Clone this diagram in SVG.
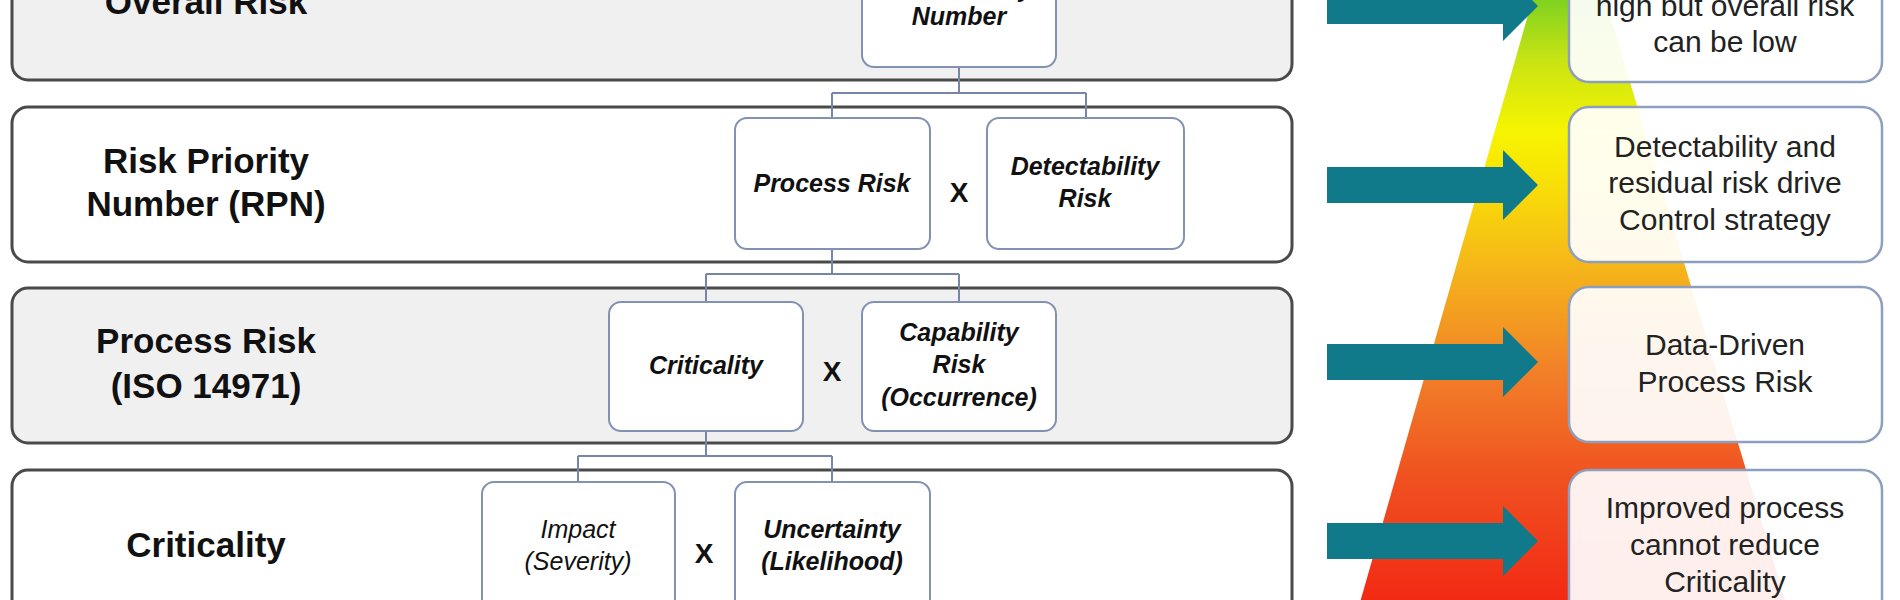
<svg xmlns="http://www.w3.org/2000/svg" width="1900" height="600" viewBox="0 0 1900 600">
<defs>
<linearGradient id="heat" gradientUnits="userSpaceOnUse" x1="0" y1="0" x2="0" y2="600">
<stop offset="0" stop-color="#7fd21e"/>
<stop offset="0.1" stop-color="#c8e414"/>
<stop offset="0.22" stop-color="#f7f400"/>
<stop offset="0.32" stop-color="#f8dc08"/>
<stop offset="0.45" stop-color="#f5b41a"/>
<stop offset="0.62" stop-color="#f18028"/>
<stop offset="0.8" stop-color="#f05020"/>
<stop offset="1" stop-color="#f22a14"/>
</linearGradient>
<style>
.band{stroke:#4a4a4a;stroke-width:3}
.gray{fill:#f0f0f1}
.white{fill:#ffffff}
.lbl{font-family:"Liberation Sans",Arial,sans-serif;font-weight:bold;font-size:35px;fill:#111;text-anchor:middle}
.card{fill:#ffffff;stroke:#8292b2;stroke-width:2}
.it{font-family:"Liberation Sans",Arial,sans-serif;font-weight:bold;font-style:italic;font-size:25px;fill:#111;text-anchor:middle}
.itr{font-family:"Liberation Sans",Arial,sans-serif;font-style:italic;font-size:25px;fill:#111;text-anchor:middle}
.x{font-family:"Liberation Sans",Arial,sans-serif;font-weight:bold;font-size:28px;fill:#111;text-anchor:middle}
.conn{fill:none;stroke:#7686a8;stroke-width:2}
.arrow{fill:#10798a}
.note{fill:#ffffff;fill-opacity:0.92;stroke:#8e9fbe;stroke-width:2.5}
.nt{font-family:"Liberation Sans",Arial,sans-serif;font-size:30px;fill:#222;text-anchor:middle}
</style>
</defs>

<g id="band-overall">
<rect class="band gray" x="12" y="-40" width="1280" height="120" rx="16"/>
<text class="lbl" x="206" y="14">Overall Risk</text>
</g>
<g id="band-rpn">
<rect class="band white" x="12" y="107" width="1280" height="155" rx="16"/>
<text class="lbl" x="206" y="173">Risk Priority</text>
<text class="lbl" x="206" y="216">Number (RPN)</text>
</g>
<g id="band-process">
<rect class="band gray" x="12" y="288" width="1280" height="155" rx="16"/>
<text class="lbl" x="206" y="353">Process Risk</text>
<text class="lbl" x="206" y="398">(ISO 14971)</text>
</g>
<g id="band-criticality">
<rect class="band white" x="12" y="470" width="1280" height="170" rx="16"/>
<text class="lbl" x="206" y="557">Criticality</text>
</g>

<g id="connectors">
<path class="conn" d="M959,67 V93 M832,93 H1086 M832,93 V118 M1086,93 V118"/>
<path class="conn" d="M832,249 V274 M706,274 H959 M706,274 V302 M959,274 V302"/>
<path class="conn" d="M706,431 V456 M578,456 H832 M578,456 V482 M832,456 V482"/>
</g>

<g id="node-rpn">
<rect class="card" x="862" y="-40" width="194" height="107" rx="12"/>
<text class="it" x="959" y="-3">Risk Priority</text>
<text class="it" x="959" y="25">Number</text>
</g>
<g id="node-process-risk">
<rect class="card" x="735" y="118" width="195" height="131" rx="12"/>
<text class="it" x="832" y="192">Process Risk</text>
</g>
<text class="x" x="959" y="202">X</text>
<g id="node-detectability">
<rect class="card" x="987" y="118" width="197" height="131" rx="12"/>
<text class="it" x="1085" y="175">Detectability</text>
<text class="it" x="1085" y="207">Risk</text>
</g>
<g id="node-criticality">
<rect class="card" x="609" y="302" width="194" height="129" rx="12"/>
<text class="it" x="706" y="374">Criticality</text>
</g>
<text class="x" x="832" y="381">X</text>
<g id="node-capability">
<rect class="card" x="862" y="302" width="194" height="129" rx="12"/>
<text class="it" x="959" y="341">Capability</text>
<text class="it" x="959" y="373">Risk</text>
<text class="it" x="959" y="406">(Occurrence)</text>
</g>
<g id="node-impact">
<rect class="card" x="482" y="482" width="193" height="150" rx="12"/>
<text class="itr" x="578" y="538">Impact</text>
<text class="itr" x="578" y="570">(Severity)</text>
</g>
<text class="x" x="704" y="563">X</text>
<g id="node-uncertainty">
<rect class="card" x="735" y="482" width="195" height="150" rx="12"/>
<text class="it" x="832" y="538">Uncertainty</text>
<text class="it" x="832" y="570">(Likelihood)</text>
</g>

<g id="heat-triangle">
<polygon points="1568,-125 1791,620 1355,620" fill="url(#heat)"/>
</g>

<g id="arrows">
<polygon class="arrow" points="1327,-12 1503,-12 1503,-29 1538,6 1503,41 1503,24 1327,24"/>
<polygon class="arrow" points="1327,167 1503,167 1503,150 1538,185 1503,220 1503,203 1327,203"/>
<polygon class="arrow" points="1327,344 1503,344 1503,327 1538,362 1503,397 1503,380 1327,380"/>
<polygon class="arrow" points="1327,523 1503,523 1503,506 1538,541 1503,576 1503,559 1327,559"/>
</g>

<g id="note-overall">
<rect class="note" x="1569" y="-40" width="313" height="122" rx="20"/>
<text class="nt" x="1725" y="16">high but overall risk</text>
<text class="nt" x="1725" y="52">can be low</text>
</g>
<g id="note-rpn">
<rect class="note" x="1569" y="107" width="313" height="155" rx="20"/>
<text class="nt" x="1725" y="157">Detectability and</text>
<text class="nt" x="1725" y="193">residual risk drive</text>
<text class="nt" x="1725" y="230">Control strategy</text>
</g>
<g id="note-process">
<rect class="note" x="1569" y="287" width="313" height="155" rx="20"/>
<text class="nt" x="1725" y="355">Data-Driven</text>
<text class="nt" x="1725" y="392">Process Risk</text>
</g>
<g id="note-criticality">
<rect class="note" x="1569" y="470" width="313" height="170" rx="20"/>
<text class="nt" x="1725" y="518">Improved process</text>
<text class="nt" x="1725" y="555">cannot reduce</text>
<text class="nt" x="1725" y="592">Criticality</text>
</g>
</svg>
